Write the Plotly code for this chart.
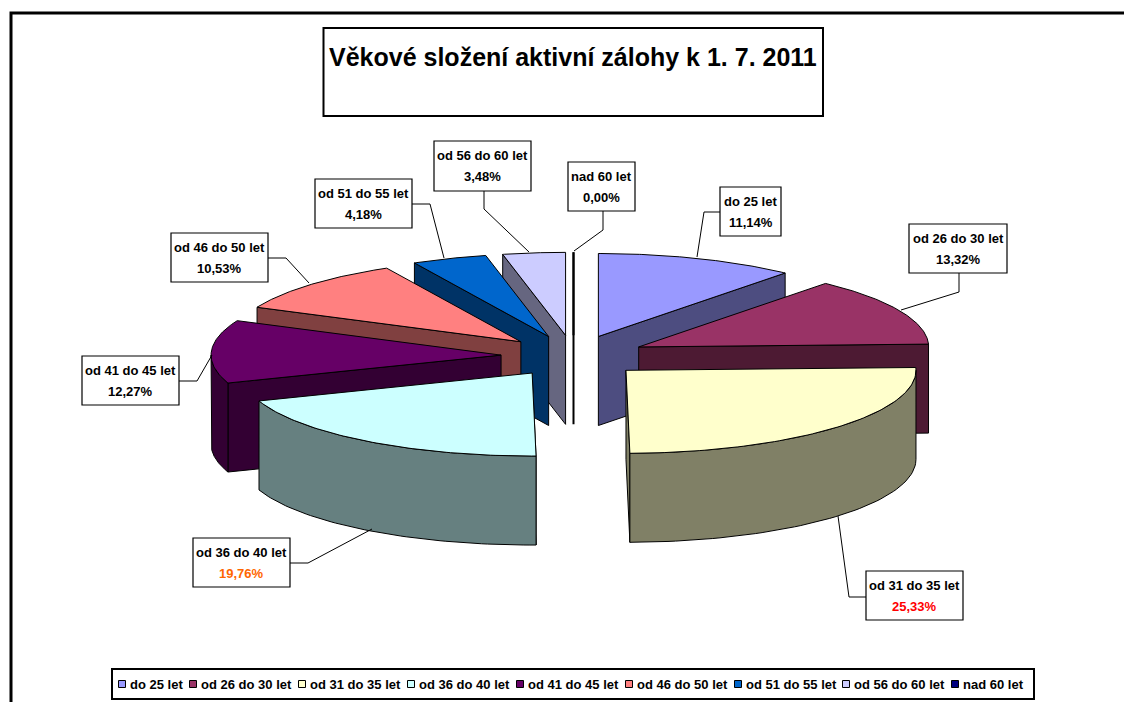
import numpy as np
import plotly.graph_objects as go

# ---- data ----
categories = ["do 25 let", "od 26 do 30 let", "od 31 do 35 let", "od 36 do 40 let",
              "od 41 do 45 let", "od 46 do 50 let", "od 51 do 55 let", "od 56 do 60 let",
              "nad 60 let"]
values = [11.14, 13.32, 25.33, 19.76, 12.27, 10.53, 4.18, 3.48, 0.00]
value_labels = ["11,14%", "13,32%", "25,33%", "19,76%", "12,27%", "10,53%", "4,18%", "3,48%", "0,00%"]
title_text = "Věkové složení aktivní zálohy k 1. 7. 2011"

# ---- style ----
top_colors = ["#9999FF", "#993366", "#FFFFCC", "#CCFFFF", "#660066", "#FF8080", "#0066CC", "#CCCCFF", "#000080"]
side_colors = ["#4D4D80", "#4D1A33", "#808066", "#668080", "#330033", "#804040", "#003366", "#666680", "#000040"]
value_colors = ["#000000", "#000000", "#FF0000", "#FF6600", "#000000", "#000000", "#000000", "#000000", "#000000"]
FONT = "Liberation Sans, Arial, sans-serif"

# ---- pie projection (plot units = pixels) ----
CX, CY, RX, RY, DEPTH, EXPLODE = 573.5, 356, 290, 83, 89, 0.25

# label box: x0, y0, x1, y1 ; leader polyline
boxes = [(720, 187, 781, 236), (909, 224, 1007, 273), (866, 571, 963, 620), (193, 538, 290, 587),
         (82, 356, 179, 405), (171, 233, 268, 282), (315, 179, 412, 228), (434, 141, 531, 191),
         (568, 162, 635, 211)]
leaders = [[(720, 212), (704, 212), (697, 257)],
           [(959, 273), (959, 292), (901, 310)],
           [(866, 597), (849, 597), (838, 516)],
           [(290, 563), (308, 563), (372, 529)],
           [(179, 381), (197, 381), (212, 355)],
           [(268, 258), (286, 258), (309, 283)],
           [(412, 204), (430, 204), (444, 258)],
           [(484, 191), (484, 209), (529, 252)],
           [(603, 211), (603, 230), (574, 251)]]
legend_x = [122, 193, 302, 411, 520, 629, 738, 846, 955]

fracs = np.array(values) / sum(values)
ends = np.cumsum(fracs) * 360.0
starts = ends - fracs * 360.0
fig = go.Figure()


def rim(ax, ay, deg):
    t = np.radians(deg)
    return ax + RX * np.sin(t), ay - RY * np.cos(t)


def poly(xs, ys, fill, name, width=1.0):
    fig.add_trace(go.Scatter(x=list(xs), y=list(ys), mode="lines", fill="toself", fillcolor=fill,
                             line=dict(color="#000000", width=width), name=name, showlegend=False,
                             hoverinfo="name"))


def draw_slice(i):
    s, e = starts[i], ends[i]
    mid = np.radians((s + e) / 2)
    ax = CX + EXPLODE * RX * np.sin(mid)
    ay = CY - EXPLODE * RY * np.cos(mid)
    name = categories[i]
    width = 2.0 if values[i] == 0 else 1.0
    # radial face towards the viewer
    edge = e if (s + e) / 2 < 180 else s
    rx_, ry_ = rim(ax, ay, edge)
    poly([ax, rx_, rx_, ax, ax], [ay, ry_, ry_ + DEPTH, ay + DEPTH, ay], side_colors[i], name, width)
    # outer wall
    a0, a1 = max(s, 90), min(e, 270)
    if a1 > a0:
        t = np.linspace(a0, a1, 60)
        wx, wy = rim(ax, ay, t)
        poly(np.r_[wx, wx[::-1], wx[0]], np.r_[wy, wy[::-1] + DEPTH, wy[0]], side_colors[i], name)
    # top surface
    t = np.linspace(s, e, 80)
    tx, ty = rim(ax, ay, t)
    poly(np.r_[ax, tx, ax], np.r_[ay, ty, ay], top_colors[i], name, width)


for i in [8, 7, 6, 5, 4, 3, 0, 1, 2]:
    draw_slice(i)

shapes = [
    dict(type="rect", x0=11, y0=13, x1=1140, y1=720, line=dict(color="#000", width=3), layer="below"),
    dict(type="rect", x0=323.5, y0=28, x1=823, y1=116, line=dict(color="#000", width=2), fillcolor="#fff"),
    dict(type="rect", x0=112, y0=669, x1=1034, y1=699, line=dict(color="#000", width=2), fillcolor="#fff",
         layer="below"),
]
annotations = [dict(x=572.5, y=57, text="<b>%s</b>" % title_text, showarrow=False,
                    font=dict(family=FONT, size=25, color="#000"), xanchor="center", yanchor="middle")]

for i, cat in enumerate(categories):
    x0, y0, x1, y1 = boxes[i]
    path = "M" + " L".join("%g,%g" % p for p in leaders[i])
    shapes.append(dict(type="path", path=path, line=dict(color="#000", width=1)))
    shapes.append(dict(type="rect", x0=x0, y0=y0, x1=x1, y1=y1, line=dict(color="#000", width=1.2), fillcolor="#fff"))
    xc = (x0 + x1) / 2
    annotations.append(dict(x=xc, y=y0 + 14.5, text="<b>%s</b>" % cat, showarrow=False,
                            font=dict(family=FONT, size=13, color="#000"), xanchor="center", yanchor="middle"))
    annotations.append(dict(x=xc, y=y0 + 35, text="<b>%s</b>" % value_labels[i], showarrow=False,
                            font=dict(family=FONT, size=13, color=value_colors[i]), xanchor="center", yanchor="middle"))
    annotations.append(dict(x=legend_x[i] + 6, y=684, text="<b>%s</b>" % cat, showarrow=False,
                            font=dict(family=FONT, size=13, color="#000"), xanchor="left", yanchor="middle"))

fig.add_trace(go.Scatter(x=legend_x, y=[684] * len(legend_x), mode="markers", showlegend=False, hoverinfo="skip",
                         marker=dict(symbol="square", size=7, color=top_colors, line=dict(color="#000", width=1))))

fig.update_layout(
    width=1124, height=702, margin=dict(l=0, r=0, t=0, b=0), showlegend=False,
    paper_bgcolor="#fff", plot_bgcolor="#fff",
    xaxis=dict(range=[0, 1124], visible=False, fixedrange=True),
    yaxis=dict(range=[702, 0], visible=False, fixedrange=True),
    shapes=shapes, annotations=annotations,
)
fig.write_html("out.html", config=dict(displayModeBar=False),
               post_script="document.body.style.margin='0';document.body.style.overflow='hidden';")
